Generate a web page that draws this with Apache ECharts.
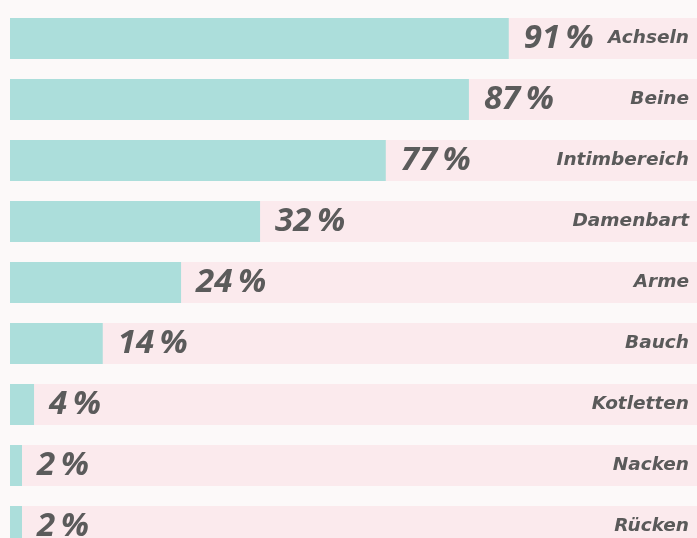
<!DOCTYPE html>
<html>
<head>
<meta charset="utf-8">
<script src="https://cdn.jsdelivr.net/npm/echarts@6/dist/echarts.min.js"></script>
<style>
  html, body { margin: 0; padding: 0; background: #fcf9f9; }
  #chart { width: 697px; height: 538px; }
</style>
</head>
<body>
<div id="chart"></div>
<script>
  // Körperstellen
  const categories = ['Achseln', 'Beine', 'Intimbereich', 'Damenbart', 'Arme', 'Bauch', 'Kotletten', 'Nacken', 'Rücken'];
  // Prozentwerte wie beschriftet
  const percents = [91, 87, 77, 32, 24, 14, 4, 2, 2];
  // Balkenlängen wie gezeichnet (Anteil der vollen Breite, 0-100)
  const barLengths = [72.6, 66.8, 54.7, 36.4, 24.9, 13.5, 3.5, 1.75, 1.75];

  let chart = echarts.init(document.getElementById('chart'));
  chart.setOption({
    backgroundColor: '#fcf9f9',
    animation: false,
    grid: {
      left: 10,
      right: 0,
      top: 8,
      height: 549,
      containLabel: false,
      outerBoundsMode: 'none'
    },
    xAxis: {
      type: 'value',
      min: 0,
      max: 100,
      show: false
    },
    yAxis: {
      type: 'category',
      data: categories,
      inverse: true,
      position: 'right',
      axisLine: { show: false },
      axisTick: { show: false },
      axisLabel: {
        inside: true,
        margin: 8,
        fontFamily: 'DejaVu Sans',
        fontStyle: 'italic',
        fontWeight: 'bold',
        fontSize: 18.5,
        color: '#5a5a5a'
      },
      z: 5
    },
    series: [{
      type: 'bar',
      data: barLengths,
      barWidth: 41,
      itemStyle: { color: '#acdedb' },
      showBackground: true,
      backgroundStyle: { color: '#fbeaed' },
      label: {
        show: true,
        position: 'right',
        distance: 15,
        fontFamily: 'Open Sans',
        fontStyle: 'italic',
        fontWeight: 'bold',
        fontSize: 33,
        color: '#5b5b5b',
        formatter: function (p) {
          return percents[p.dataIndex] + '\u2009%';
        }
      }
    }]
  });
</script>
</body>
</html>
